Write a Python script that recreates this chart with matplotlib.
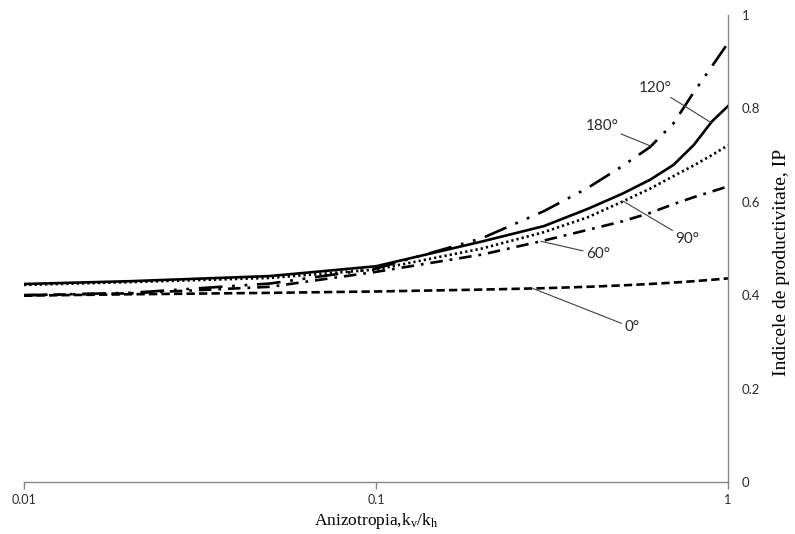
import numpy as np
import matplotlib
matplotlib.use("Agg")
import matplotlib.pyplot as plt

plt.rcParams['lines.scale_dashes'] = False
plt.rcParams['mathtext.fontset'] = 'custom'
plt.rcParams['mathtext.rm'] = 'Liberation Serif'

# anizotropia kv/kh
kv_kh = [0.01, 0.02, 0.05, 0.1, 0.2, 0.3, 0.4, 0.5, 0.6, 0.7, 0.8, 0.9, 1.0]

# indicele de productivitate pentru fiecare unghi
ip_0 = [0.399, 0.402, 0.405, 0.408, 0.412, 0.415, 0.418, 0.421, 0.424, 0.427, 0.430, 0.433, 0.436]
ip_60 = [0.400, 0.404, 0.418, 0.450, 0.487, 0.517, 0.540, 0.558, 0.576, 0.595, 0.610, 0.622, 0.633]
ip_90 = [0.422, 0.428, 0.437, 0.455, 0.500, 0.535, 0.567, 0.600, 0.628, 0.655, 0.678, 0.700, 0.721]
ip_120 = [0.424, 0.430, 0.441, 0.462, 0.515, 0.548, 0.585, 0.617, 0.647, 0.679, 0.722, 0.772, 0.805]
ip_180 = [0.400, 0.405, 0.425, 0.457, 0.522, 0.580, 0.630, 0.676, 0.717, 0.768, 0.835, 0.890, 0.940]

xticks = [0.01, 0.1, 1]
xticklabels = ['0.01', '0.1', '1']
yticks = [0, 0.2, 0.4, 0.6, 0.8, 1]
yticklabels = ['0', '0.2', '0.4', '0.6', '0.8', '1']

fig = plt.figure(figsize=(7.95, 5.34), dpi=100)
ax = fig.add_axes([24 / 795, 52 / 534, 704 / 795, 467 / 534])

lw = 1.9
ax.plot(kv_kh, ip_0, color='black', lw=lw, dashes=(6, 3))
ax.plot(kv_kh, ip_60, color='black', lw=lw, dashes=(9, 5, 2, 5))
ax.plot(kv_kh, ip_90, color='black', lw=lw, dashes=(1.6, 2.2))
ax.plot(kv_kh, ip_120, color='black', lw=lw)
ax.plot(kv_kh, ip_180, color='black', lw=lw, dashes=(17, 7, 2, 7, 2, 7))

ax.set_xscale('log')
ax.set_xlim(0.01, 1)
ax.set_ylim(0, 1)
ax.set_xticks(xticks)
ax.set_xticklabels(xticklabels)
ax.xaxis.set_minor_locator(matplotlib.ticker.NullLocator())
ax.set_yticks(yticks)
ax.set_yticklabels(yticklabels)

ax.yaxis.tick_right()
for side in ['left', 'top']:
    ax.spines[side].set_visible(False)
for side in ['right', 'bottom']:
    ax.spines[side].set_color('#868686')
    ax.spines[side].set_linewidth(1.0)

ax.tick_params(axis='x', direction='out', length=5, width=1, color='#868686',
               labelsize=9, labelcolor='#2b2b2b', pad=4)
ax.tick_params(axis='y', length=0, labelsize=9.5, labelcolor='#2b2b2b', pad=10)
for lab in ax.get_xticklabels() + ax.get_yticklabels():
    lab.set_family('Lato')

ax.set_xlabel(r'Anizotropia,k$\mathregular{_v}$/k$\mathregular{_h}$',
              family='Liberation Serif', fontsize=12.5)
ax.xaxis.set_label_coords(0.5, -0.083)
ax.xaxis.label.set_va('center')

ax.set_ylabel('Indicele de productivitate, IP', family='Liberation Serif',
              fontsize=14, rotation=90)
ax.yaxis.set_label_coords(1.076, 0.471)
ax.yaxis.label.set_ha('center')
ax.yaxis.label.set_va('center')
ax.yaxis.label.set_rotation_mode('default')

# etichete unghiuri cu linii de legatura catre curbe
labels = [('120°', ip_120, 0.895, (-56, 35)),
          ('180°', ip_180, 0.604, (-49, 20)),
          ('90°', ip_90, 0.504, (64, -38)),
          ('60°', ip_60, 0.294, (57, -13)),
          ('0°', ip_0, 0.279, (99, -39))]
logx = np.log10(kv_kh)
for text, ys, x0, off in labels:
    y0 = np.interp(np.log10(x0), logx, ys)
    ax.annotate(text, xy=(x0, y0), xytext=off, textcoords='offset pixels',
                ha='center', va='center', family='Lato', fontsize=11,
                color='#2b2b2b',
                arrowprops=dict(arrowstyle='-', color='#404040', lw=0.8,
                                shrinkA=0, shrinkB=0))

fig.savefig('out.png', dpi=100)
